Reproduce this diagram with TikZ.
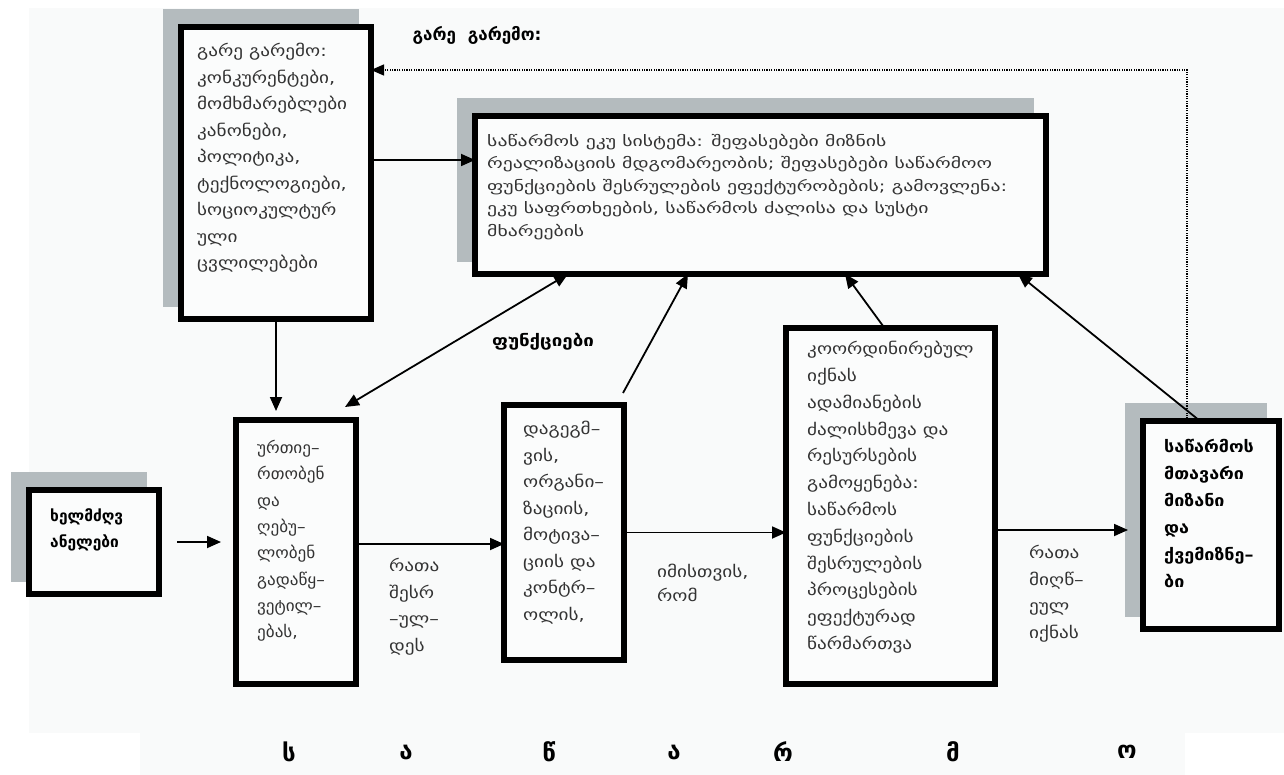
\documentclass[tikz,border=0pt]{standalone}
\usepackage{fontspec}
\setmainfont{DejaVu Sans}
\newfontfamily\gw[FakeStretch=1.2]{DejaVu Sans}
\newfontfamily\gwb[FakeStretch=1.36]{DejaVu Sans}
\newfontfamily\gn[FakeStretch=1.07]{DejaVu Sans}
\newfontfamily\gbw[FakeStretch=1.12]{DejaVu Sans}
\newfontfamily\gbf[FakeStretch=1.17]{DejaVu Sans}
\usetikzlibrary{arrows.meta,calc}
\definecolor{bgc}{HTML}{F9FAFA}
\definecolor{boxc}{HTML}{FBFCFC}
\definecolor{shc}{HTML}{B4BBBE}
\definecolor{txc}{HTML}{333333}
\pgfdeclarelayer{back}
\pgfdeclarelayer{shade}
\pgfsetlayers{back,shade,main}
\begin{document}
\begin{tikzpicture}[x=1pt,y=-1pt,
  box/.style={draw=black,line width=6pt,fill=boxc,anchor=north west,inner sep=0pt,outer sep=0pt},
  conn/.style={line width=1.8pt,-{Triangle[length=14pt,width=12pt]}},
  dconn/.style={line width=1.8pt,{Triangle[length=14pt,width=12pt]}-{Triangle[length=14pt,width=12pt]}},
  dotconn/.style={line width=1.2pt,dash pattern=on 1.2pt off 1.2pt,-{Triangle[length=13pt,width=11pt]}},
  txt/.style={anchor=north west,inner sep=0pt,align=left,text=txc,font=\gw\fontsize{16}{26.5}\selectfont},
  btxt/.style={anchor=north west,inner sep=0pt,align=left,text=black,font=\gbw\fontsize{16}{27}\selectfont\bfseries},
  big/.style={anchor=center,inner sep=0pt,text=black,font=\fontsize{24}{24}\selectfont\bfseries}
]
\useasboundingbox (0,0) rectangle (1284,775);
\begin{pgfonlayer}{back}
\fill[white] (0,0) rectangle (1284,775);
\fill[bgc] (29,8) rectangle (1284,733);
\fill[bgc] (140,733) rectangle (1185,775);
\end{pgfonlayer}

% boxes
\node[box,minimum width=190pt,minimum height=292pt] (b1) at (181,27) {};
\node[box,minimum width=571pt,minimum height=158pt] (b2) at (475,116) {};
\node[box,minimum width=130pt,minimum height=104pt] (b3) at (29,490) {};
\node[box,minimum width=120pt,minimum height=264pt] (b4) at (236,420) {};
\node[box,minimum width=120pt,minimum height=255pt] (b5) at (504,405) {};
\node[box,minimum width=209pt,minimum height=356pt] (b6) at (786,328) {};
\node[box,minimum width=136pt,minimum height=208pt] (b7) at (1143,421) {};

\begin{pgfonlayer}{shade}
\foreach \n in {b1,b2,b3,b7}
  \fill[shc] ([shift={(-18,-18)}]\n.north west) rectangle ([shift={(-12,-12)}]\n.south east);
\end{pgfonlayer}

% texts
\node[txt] (t1) at (197,43) {გარე გარემო:\\კონკურენტები,\\მომხმარებლები\\კანონები,\\პოლიტიკა,\\ტექნოლოგიები,\\სოციოკულტურ\\ული\\ცვლილებები};
\node[txt,font=\gwb\fontsize{14.5}{22.5}\selectfont] (t2) at (487,134) {საწარმოს ეკუ სისტემა: შეფასებები მიზნის\\რეალიზაციის მდგომარეობის; შეფასებები საწარმოო\\ფუნქციების შესრულების ეფექტურობების; გამოვლენა:\\ეკუ საფრთხეების, საწარმოს ძალისა და სუსტი\\მხარეების};
\node[btxt,font=\fontsize{15.5}{26}\selectfont\bfseries] (t3) at (50,508) {ხელმძღვ\\ანელები};
\node[txt,font=\gn\fontsize{16}{26.3}\selectfont] (t4) at (257,440) {ურთიე–\\რთობენ\\და\\ღებუ–\\ლობენ\\გადაწყ–\\ვეტილ–\\ებას,};
\node[txt] (t5) at (523,421) {დაგეგმ–\\ვის,\\ორგანი–\\ზაციის,\\მოტივა–\\ციის და\\კონტრ–\\ოლის,};
\node[txt,font=\gw\fontsize{16}{26.8}\selectfont] (t6) at (807,341) {კოორდინირებულ\\იქნას\\ადამიანების\\ძალისხმევა და\\რესურსების\\გამოყენება:\\საწარმოს\\ფუნქციების\\შესრულების\\პროცესების\\ეფექტურად\\წარმართვა};
\node[btxt] (t7) at (1164,439) {საწარმოს\\მთავარი\\მიზანი\\და\\ქვემიზნე–\\ბი};
\node[txt] (l1) at (389,558) {რათა\\შესრ\\–ულ–\\დეს};
\node[txt,font=\gw\fontsize{16}{24}\selectfont] (l2) at (657,564) {იმისთვის,\\რომ};
\node[txt] (l3) at (1029,545) {რათა\\მიღწ–\\ეულ\\იქნას};
\node[anchor=center,inner sep=0pt,font=\gbf\fontsize{16}{16}\selectfont\bfseries] (l4) at (543,342) {ფუნქციები};
\node[anchor=center,inner sep=0pt,font=\fontsize{17}{17}\selectfont\bfseries] (title) at (477,35) {გარე\ \ გარემო:};

\node[big] (s1) at (289,752) {ს};
\node[big] (s2) at (406,752) {ა};
\node[big] (s3) at (549,752) {წ};
\node[big] (s4) at (674,752) {ა};
\node[big] (s5) at (783,752) {რ};
\node[big] (s6) at (953,752) {მ};
\node[big] (s7) at (1127,752) {ო};

% connectors
\draw[conn] ([yshift=13pt]b1.east) -- ([yshift=13pt]b1.east -| b2.west);
\draw[conn,shorten >=9pt] (b1.south) -- (b1.south |- b4.north);
\draw[dconn] ([shift={(-11,-13)}]b4.north east) -- ([xshift=93pt]b2.south west);
\draw[conn] ([shift={(-1,-12)}]b5.north east) -- ([xshift=213pt]b2.south west);
\draw[conn] ([xshift=-6pt]b6.north) -- ([xshift=370pt]b2.south west);
\draw[conn] ([xshift=57pt]b7.north west) -- ([xshift=543pt]b2.south west);
\draw[conn,shorten <=18pt,shorten >=15pt] (b3.east) -- (b3.east -| b4.west);
\draw[conn] ([yshift=8pt]b4.east) -- ([yshift=8pt]b4.east -| b5.west);
\draw[conn] (b5.east) -- (b5.east -| b6.west);
\draw[conn,shorten >=15pt] ([yshift=-24pt]b6.east) -- ([yshift=-24pt]b6.east -| b7.west);
\draw[dotconn] ([xshift=44pt]b7.north west) |- ([yshift=103pt]b1.east);
\end{tikzpicture}
\end{document}
